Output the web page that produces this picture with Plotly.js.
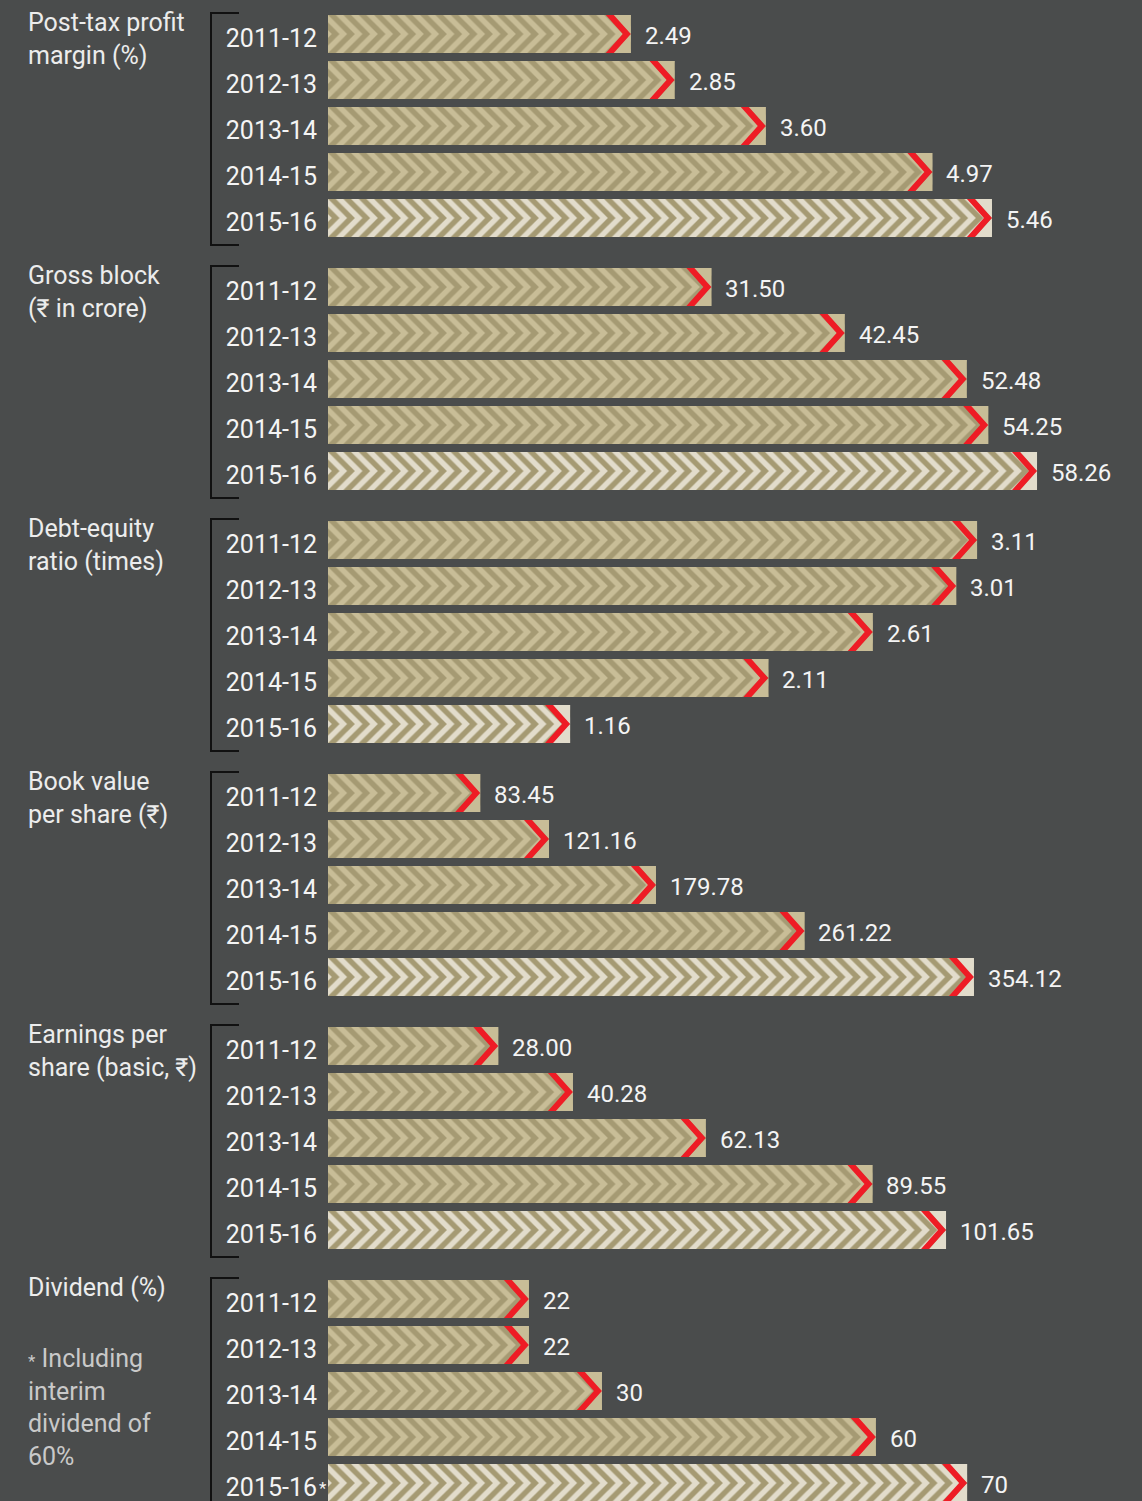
<!DOCTYPE html>
<html>
<head>
<meta charset="utf-8">
<script src="https://cdn.plot.ly/plotly-3.0.1.min.js"></script>
<style>
html,body{margin:0;padding:0;background:#4a4c4c;overflow:hidden}
#chart{width:1142px;height:1501px}
</style>
</head>
<body>
<div id="chart"></div>
<script>
// ---------- data ----------
const years = ['2011-12', '2012-13', '2013-14', '2014-15', '2015-16'];
const groupTitles = [
  'Post-tax profit<br>margin (%)',
  'Gross block<br>(₹ in crore)',
  'Debt-equity<br>ratio (times)',
  'Book value<br>per share (₹)',
  'Earnings per<br>share (basic, ₹)',
  'Dividend (%)'
];
const profitMargin = [2.49, 2.85, 3.60, 4.97, 5.46];
const grossBlock   = [31.50, 42.45, 52.48, 54.25, 58.26];
const debtEquity   = [3.11, 3.01, 2.61, 2.11, 1.16];
const bookValue    = [83.45, 121.16, 179.78, 261.22, 354.12];
const eps          = [28.00, 40.28, 62.13, 89.55, 101.65];
const dividend     = [22, 22, 30, 60, 70];
const decimals     = [2, 2, 2, 2, 2, 0];
const footnote     = '<span style="font-size:17px">*</span> Including<br>interim<br>dividend of<br>60%';

// ---------- layout constants ----------
const W = 1142, H = 1501;
const X0 = 328;            // left edge of bars (px)
const ROW = 46, BAR = 38;  // row pitch and bar thickness (px)
const FIRST_TOP = 11, GROUP_STEP = 253;
const pxPerUnit = [121.6, 12.17, 208.7, 1.824, 6.08, 9.13];
const TAN = '#c8bd97', CREAM = '#e2dccb', DARK = '#a59a73', RED = '#ee1c25';
const BG = '#4a4c4c';
const CHEV_DX = 17, CHEV_T = 8;   // red chevron geometry (px)
const PAT_SIZE = (ROW / 3) / Math.SQRT2;
const FONT = 'Roboto, sans-serif';

const series = [profitMargin, grossBlock, debtEquity, bookValue, eps, dividend];
const idx = years.map((_, i) => i);
const half = (BAR / 2) / ROW;

const traces = [];
const annotations = [];
const shapes = [];
const layout = {
  width: W, height: H,
  margin: {l: 0, r: 0, t: 0, b: 0},
  paper_bgcolor: BG, plot_bgcolor: 'rgba(0,0,0,0)',
  showlegend: false, barmode: 'overlay',
  font: {family: FONT, color: '#f4f4f4', size: 24},
  annotations: annotations, shapes: shapes
};

series.forEach((vals, g) => {
  const n = g === 0 ? '' : String(g + 1);
  const xa = 'x' + n, ya = 'y' + n;
  const top = FIRST_TOP + GROUP_STEP * g;
  const bottom = Math.min(top + ROW * years.length, H);
  const rangeBottom = -0.5 + (bottom - top) / ROW;
  const bgs = idx.map(i => i === years.length - 1 ? CREAM : TAN);

  layout['xaxis' + n] = {
    domain: [X0 / W, 1], range: [0, (W - X0) / pxPerUnit[g]],
    visible: false, fixedrange: true, anchor: ya
  };
  layout['yaxis' + n] = {
    domain: [1 - bottom / H, 1 - top / H], range: [rangeBottom, -0.5],
    anchor: xa, tickmode: 'array', tickvals: idx, ticktext: years,
    showgrid: false, zeroline: false, showline: false, ticks: '',
    ticklabelstandoff: 10, ticklabelshift: -4, ticklabeloverflow: 'allow',
    fixedrange: true,
    tickfont: {family: FONT, size: 25, color: '#f4f4f4'}
  };

  // chevron-patterned bars: top half "\" and bottom half "/"
  [['\\', -half], ['/', 0]].forEach(([shape, off]) => {
    traces.push({
      type: 'bar', orientation: 'h', x: vals, y: idx, xaxis: xa, yaxis: ya,
      offset: off, width: half, hoverinfo: 'skip',
      marker: {
        color: TAN, line: {width: 0},
        pattern: {shape: shape, size: PAT_SIZE, solidity: 0.5,
                  fgcolor: DARK, bgcolor: bgs, fillmode: 'replace'}
      }
    });
  });

  const dx = CHEV_DX / pxPerUnit[g], t = CHEV_T / pxPerUnit[g];
  const rx = [], ry = [];
  vals.forEach((v, i) => {
    const t0 = i - half, b0 = i + half;
    // plain fill right of the red chevron
    traces.push({
      type: 'scatter', mode: 'lines', xaxis: xa, yaxis: ya, hoverinfo: 'skip',
      x: [v - dx, v, v, v - dx, v], y: [t0, t0, b0, b0, i],
      fill: 'toself', fillcolor: bgs[i], line: {width: 0, color: bgs[i]}
    });
    rx.push(v - dx, v, v - dx, v - dx - t, v - t, v - dx - t, null);
    ry.push(t0, i, b0, b0, i, t0, null);
    annotations.push({
      xref: xa, yref: ya, x: v, y: i, xanchor: 'left', yanchor: 'middle',
      xshift: 12, yshift: -2, showarrow: false, text: v.toFixed(decimals[g]),
      font: {family: FONT, size: 24, color: '#f4f4f4'}
    });
  });
  traces.push({
    type: 'scatter', mode: 'lines', xaxis: xa, yaxis: ya, hoverinfo: 'skip',
    x: rx, y: ry, fill: 'toself', fillcolor: RED, line: {width: 0, color: RED}
  });

  // group title
  annotations.push({
    xref: 'paper', yref: 'paper', x: 26 / W, y: 1 - (top - 5) / H,
    xanchor: 'left', yanchor: 'top', align: 'left', showarrow: false,
    text: groupTitles[g],
    font: {family: FONT, size: 25, color: '#ececec'}
  });

  // bracket
  const bt = top + 2, bb = top + 234;
  const px = p => p / W, py = p => 1 - p / H;
  shapes.push({
    type: 'path', xref: 'paper', yref: 'paper',
    path: `M${px(239)},${py(bt)} L${px(211)},${py(bt)} L${px(211)},${py(bb)} L${px(239)},${py(bb)}`,
    line: {color: '#111111', width: 2}
  });
});

// asterisk on the last dividend year and footnote
annotations.push({
  xref: 'x6', yref: 'y6', x: 0, y: 4, xanchor: 'right', yanchor: 'middle',
  xshift: 1, yshift: -5, showarrow: false, text: '*',
  font: {family: FONT, size: 17, color: '#f4f4f4'}
});
annotations.push({
  xref: 'paper', yref: 'paper', x: 26 / W, y: 1 - 1342 / H,
  xanchor: 'left', yanchor: 'top', align: 'left', showarrow: false,
  text: footnote,
  font: {family: FONT, size: 25, color: '#c9c9c9'}
});

Plotly.newPlot('chart', traces, layout, {staticPlot: true, displayModeBar: false});
</script>
</body>
</html>
